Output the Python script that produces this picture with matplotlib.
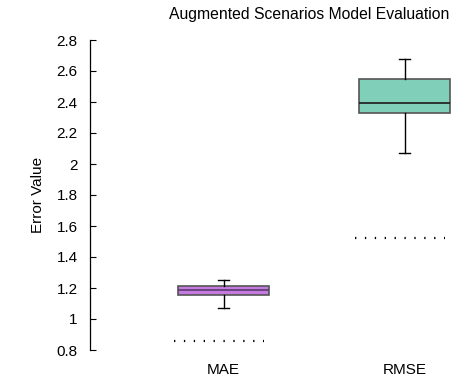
import matplotlib
matplotlib.use("Agg")
import matplotlib.pyplot as plt

plt.rcParams['font.family'] = ['Liberation Sans', 'DejaVu Sans']

metrics = ["MAE", "RMSE"]
whisker_low = [1.07, 2.07]
q1 = [1.155, 2.33]
median = [1.184, 2.394]
q3 = [1.213, 2.548]
whisker_high = [1.25, 2.677]
baseline = [0.858, 1.523]

fill_colors = ["#c47ade", "#80cfb8"]
median_colors = ["#5b3a70", "#1a1a1a"]

fig = plt.figure(figsize=(4.61, 3.81), dpi=100)
ax = fig.add_axes([90 / 461, 31 / 381, 371 / 461, 310 / 381])

stats = [dict(label=m, whislo=lo, q1=a, med=md, q3=b, whishi=hi, fliers=[])
         for m, lo, a, md, b, hi in zip(metrics, whisker_low, q1, median, q3, whisker_high)]
positions = [1, 2]
bp = ax.bxp(stats, positions=positions, widths=0.5, patch_artist=True,
            showfliers=False, capwidths=0.06,
            boxprops=dict(linewidth=1.2, edgecolor="#555555"),
            whiskerprops=dict(color="black", linewidth=1.0),
            capprops=dict(color="black", linewidth=1.0),
            medianprops=dict(linewidth=1.2))
for patch, fc in zip(bp["boxes"], fill_colors):
    patch.set_facecolor(fc)
for med, mc in zip(bp["medians"], median_colors):
    med.set_color(mc)

# dotted reference level under each box
for p, b in zip(positions, baseline):
    ax.hlines(b, p - 0.273, p + 0.222, colors="black", linewidth=1.6,
              linestyles=(0, (0.6, 3.85)))

ax.set_xlim(0.262, 2.312)
ax.set_ylim(0.8, 2.8)
ax.set_yticks([0.8, 1.0, 1.2, 1.4, 1.6, 1.8, 2.0, 2.2, 2.4, 2.6, 2.8])
ax.set_yticklabels(["0.8", "1", "1.2", "1.4", "1.6", "1.8", "2", "2.2", "2.4", "2.6", "2.8"])
ax.set_xticks(positions)
ax.set_xticklabels(metrics)
ax.tick_params(axis="y", direction="in", length=4, labelsize=11, pad=9)
ax.tick_params(axis="x", length=0, labelsize=11, pad=9)
for s in ["top", "right", "bottom"]:
    ax.spines[s].set_visible(False)
ax.spines["left"].set_linewidth(0.9)
ax.set_ylabel("Error Value", fontsize=11, labelpad=8)

fig.text(309 / 461, 1 - 14 / 381, "Augmented Scenarios Model Evaluation",
         ha="center", va="center", fontsize=11.3)

fig.savefig("out.png", dpi=100)
